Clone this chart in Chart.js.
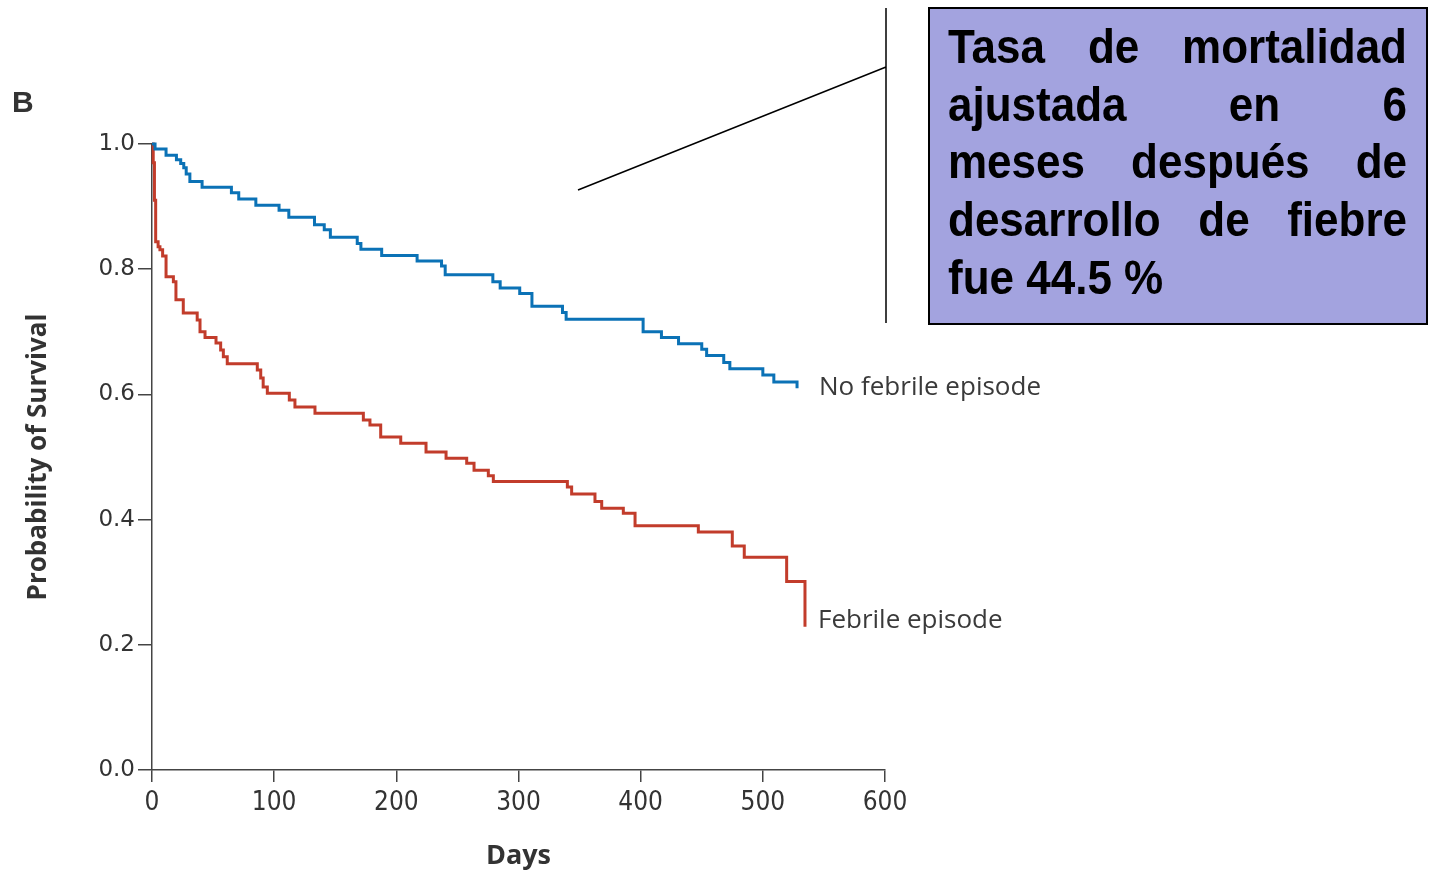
<!DOCTYPE html>
<html>
<head>
<meta charset="utf-8">
<script src="https://cdn.jsdelivr.net/npm/chart.js@4"></script>
<style>
  html, body { margin: 0; padding: 0; background: #fff; }
  #wrap { width: 1430px; height: 876px; }
</style>
</head>
<body>
<div id="wrap"><canvas id="kmChart" width="1430" height="876"></canvas></div>
<script>
// Kaplan-Meier steps (day, probability of survival)
const noFebDays = [0, 2.5, 11.5, 20, 23.5, 26, 28, 31, 41, 65, 71, 85, 104, 112, 133, 141, 146, 168, 171, 188,
    217, 237, 240, 279, 285, 301, 311, 336, 339, 402, 417, 431, 450, 454, 468, 473, 500, 509, 528];
const noFebSurv = [1.0, 0.992, 0.982, 0.975, 0.969, 0.962, 0.952, 0.940, 0.931, 0.922, 0.912, 0.902, 0.894, 0.883,
    0.871, 0.863, 0.851, 0.841, 0.832, 0.822, 0.813, 0.805, 0.791, 0.780, 0.770, 0.761, 0.741, 0.731, 0.720,
    0.700, 0.691, 0.681, 0.672, 0.662, 0.651, 0.641, 0.631, 0.620, 0.610];

const febDays = [0, 1, 2, 3, 5, 6.5, 8.7, 11.5, 17.5, 19.6, 25.6, 37, 39.3, 43.4, 52.4, 56.2, 58.4, 61.6, 86.2,
    89, 91, 94.4, 112.4, 117, 133.4, 173, 178.4, 187.2, 203.6, 224.3, 240.7, 257.6, 263.6, 275.3, 279.4, 340,
    343.5, 362.6, 368.1, 385.8, 395.4, 447.2, 475, 484.8, 519.5, 534.5];
const febSurv = [1.0, 0.97, 0.91, 0.844, 0.836, 0.831, 0.821, 0.788, 0.780, 0.751, 0.730, 0.719, 0.700, 0.691,
    0.682, 0.671, 0.660, 0.649, 0.639, 0.626, 0.612, 0.602, 0.591, 0.580, 0.570, 0.559, 0.551, 0.532, 0.522,
    0.508, 0.498, 0.490, 0.479, 0.470, 0.461, 0.452, 0.441, 0.429, 0.418, 0.410, 0.390, 0.380, 0.358, 0.340,
    0.301, 0.229];

const seriesNames = ["No febrile episode", "Febrile episode"];
const xTicks = [0, 100, 200, 300, 400, 500, 600];
const yTicks = [0.0, 0.2, 0.4, 0.6, 0.8, 1.0];

const boxLines = ["Tasa de mortalidad", "ajustada en 6", "meses después de", "desarrollo de fiebre", "fue 44.5 %"];

const blue = "#0b72b6";
const red = "#c23c2b";

function toPoints(xs, ys) {
    return xs.map((x, i) => ({ x: x, y: ys[i] }));
}

// panel letter, curve labels and the pasted-on callout box
const extras = {
    id: "extras",
    afterDraw(chart) {
        const ctx = chart.ctx;
        const xs = chart.scales.x, ys = chart.scales.y;
        ctx.save();

        ctx.fillStyle = "#333";
        ctx.font = "bold 30px 'Liberation Sans', Arial, sans-serif";
        ctx.textBaseline = "alphabetic";
        ctx.fillText("B", 12, 112);

        // curve labels at the end of each curve
        ctx.font = "26px 'Open Sans', sans-serif";
        ctx.fillStyle = "#3a3a3a";
        ctx.textBaseline = "middle";
        ctx.fillText(seriesNames[0], xs.getPixelForValue(noFebDays[noFebDays.length - 1]) + 22,
            ys.getPixelForValue(noFebSurv[noFebSurv.length - 1]) - 1);
        ctx.fillText(seriesNames[1], xs.getPixelForValue(febDays[febDays.length - 1]) + 13,
            ys.getPixelForValue(febSurv[febSurv.length - 1]) - 6);

        // callout lines
        ctx.strokeStyle = "#000";
        ctx.lineWidth = 1.5;
        ctx.beginPath();
        ctx.moveTo(886, 8);
        ctx.lineTo(886, 323);
        ctx.moveTo(578, 190);
        ctx.lineTo(886, 67);
        ctx.stroke();

        // box
        ctx.fillStyle = "#a3a3df";
        ctx.fillRect(929, 8, 498, 316);
        ctx.lineWidth = 2;
        ctx.strokeRect(929, 8, 498, 316);

        // justified bold text
        ctx.fillStyle = "#000";
        ctx.font = "bold 44px 'Liberation Sans', Arial, sans-serif";
        ctx.textBaseline = "alphabetic";
        const left = 948, right = 1407, lineGap = 57.7, firstBase = 63;
        boxLines.forEach((line, i) => {
            const base = firstBase + i * lineGap;
            const words = line.split(" ");
            const last = i === boxLines.length - 1;
            const widths = words.map(w => ctx.measureText(w).width);
            const total = widths.reduce((a, b) => a + b, 0);
            const gap = last || words.length < 2 ? ctx.measureText(" ").width
                : (right - left - total) / (words.length - 1);
            let x = left;
            words.forEach((w, k) => {
                ctx.save();
                ctx.translate(x, base);
                ctx.scale(1, 1.1);
                ctx.fillText(w, 0, 0);
                ctx.restore();
                x += widths[k] + gap;
            });
        });
        ctx.restore();
    }
};

const kmChart = new Chart(document.getElementById("kmChart").getContext("2d"), {
    type: "line",
    data: {
        datasets: [{
            label: seriesNames[0],
            data: toPoints(noFebDays, noFebSurv),
            borderColor: blue,
            borderWidth: 3,
            pointRadius: 0,
            stepped: true,
            fill: false,
            clip: 6
        }, {
            label: seriesNames[1],
            data: toPoints(febDays, febSurv),
            borderColor: red,
            borderWidth: 3,
            pointRadius: 0,
            stepped: true,
            fill: false,
            clip: 6
        }]
    },
    options: {
        responsive: false,
        animation: false,
        events: [],
        layout: { padding: { left: 0, right: 545, top: 144, bottom: 0 } },
        plugins: {
            legend: { display: false },
            tooltip: { enabled: false }
        },
        scales: {
            x: {
                type: "linear",
                min: 0,
                max: 600,
                afterFit: s => { s.height = 106; },
                afterBuildTicks: s => { s.ticks = xTicks.map(v => ({ value: v })); },
                grid: { drawOnChartArea: false, drawTicks: true, tickLength: 12, color: "#444", lineWidth: 1.5 },
                border: { color: "#444", width: 1.5 },
                ticks: {
                    color: "#333",
                    padding: 6,
                    maxRotation: 0,
                    font: { family: "'DejaVu Sans Condensed', 'DejaVu Sans', sans-serif", size: 26 }
                },
                title: {
                    display: true,
                    text: "Days",
                    color: "#333",
                    padding: { bottom: 3 },
                    font: { family: "'Open Sans', sans-serif", size: 27, weight: "bold" }
                }
            },
            y: {
                min: 0,
                max: 1,
                afterFit: s => { s.width = 152; },
                afterBuildTicks: s => { s.ticks = yTicks.map(v => ({ value: v })); },
                grid: { drawOnChartArea: false, drawTicks: true, tickLength: 14, color: "#444", lineWidth: 1.5 },
                border: { color: "#444", width: 1.5 },
                ticks: {
                    color: "#333",
                    padding: 3,
                    callback: v => v.toFixed(1),
                    font: { family: "'DejaVu Sans', sans-serif", size: 23 }
                },
                title: {
                    display: true,
                    text: "Probability of Survival",
                    color: "#333",
                    padding: { top: 23 },
                    font: { family: "'Open Sans', sans-serif", size: 26, weight: "bold" }
                }
            }
        }
    },
    plugins: [extras]
});
</script>
</body>
</html>
